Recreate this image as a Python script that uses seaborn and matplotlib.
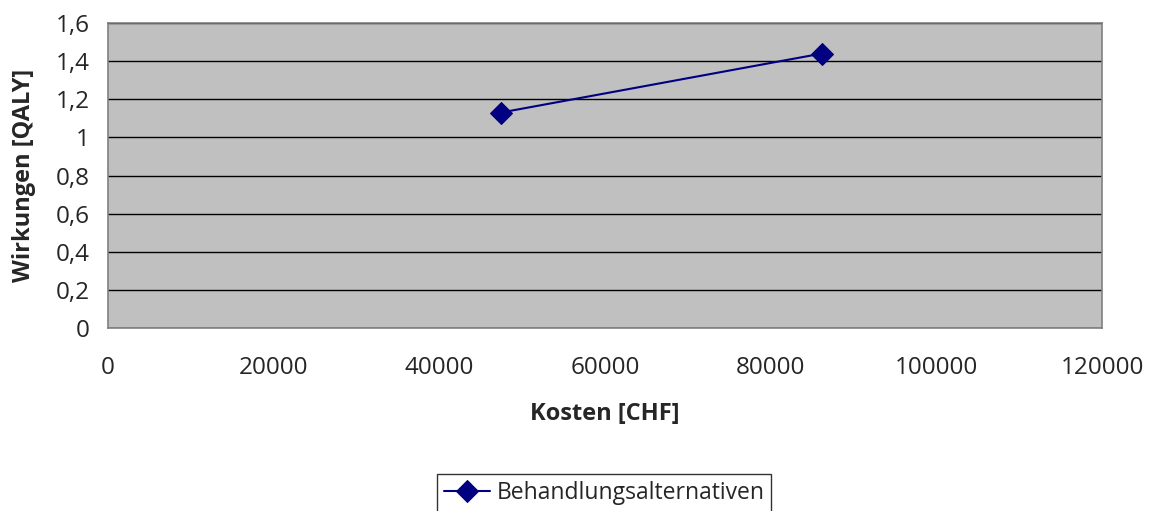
import pandas as pd
import matplotlib.pyplot as plt
import seaborn as sns

# data
kosten = [47400, 86200]
wirkungen = [1.13, 1.44]
serie = ['Behandlungsalternativen', 'Behandlungsalternativen']

x_ticks = [0, 20000, 40000, 60000, 80000, 100000, 120000]
y_ticks = [0, 0.2, 0.4, 0.6, 0.8, 1.0, 1.2, 1.4, 1.6]
y_labels = ['0', '0,2', '0,4', '0,6', '0,8', '1', '1,2', '1,4', '1,6']

df = pd.DataFrame({'Kosten': kosten, 'Wirkungen': wirkungen, 'Serie': serie})

sns.set_style('white')
plt.rcParams['font.family'] = ['Open Sans', 'DejaVu Sans']

fig = plt.figure(figsize=(11.52, 5.11), dpi=100)
ax = fig.add_axes([0.0938, 0.358, 0.8628, 0.597])
ax.set_facecolor('#C0C0C0')

sns.lineplot(data=df, x='Kosten', y='Wirkungen', hue='Serie',
             palette=['#000080'], marker='D', markersize=11,
             markeredgecolor='#000080', linewidth=1.5, ax=ax)

ax.set_xlim(0, 120000)
ax.set_ylim(0, 1.6)
ax.set_xticks(x_ticks)
ax.set_xticklabels([str(t) for t in x_ticks])
ax.set_yticks(y_ticks)
ax.set_yticklabels(y_labels)
ax.tick_params(axis='both', labelsize=17.5, length=7, width=1,
               color='#404040', direction='out')
ax.tick_params(axis='x', pad=13)
ax.tick_params(axis='y', pad=6)

ax.yaxis.grid(True, color='black', linewidth=1)
ax.set_axisbelow(True)
for s in ax.spines.values():
    s.set_color('#808080')
    s.set_linewidth(1.2)

ax.set_xlabel('Kosten [CHF]', fontsize=17, fontweight='bold', labelpad=16)
ax.set_ylabel('Wirkungen [QALY]', fontsize=17, fontweight='bold', labelpad=14)

handles, labels = ax.get_legend_handles_labels()
ax.get_legend().remove()
leg = fig.legend(handles, labels, loc='upper center',
                 bbox_to_anchor=(0.5245, 0.072), ncol=1,
                 fontsize=16.5, frameon=True, fancybox=False,
                 handlelength=2.0, handletextpad=0.3, borderpad=0.3,
                 borderaxespad=0)
leg.get_frame().set_edgecolor('black')
leg.get_frame().set_linewidth(1)

fig.savefig('out.png', dpi=100)
